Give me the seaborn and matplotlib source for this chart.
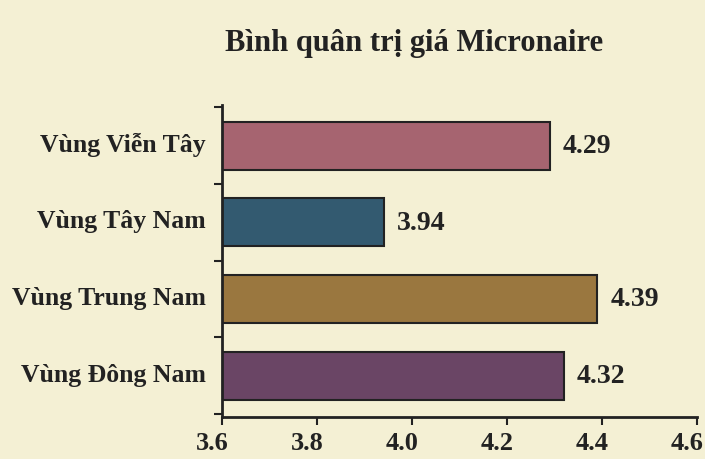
import numpy as np
import pandas as pd
import matplotlib
matplotlib.use('Agg')
import matplotlib.pyplot as plt
import matplotlib.transforms as mtrans
import seaborn as sns

# average micronaire value per region
regions = ['Vùng Viễn Tây', 'Vùng Tây Nam', 'Vùng Trung Nam', 'Vùng Đông Nam']
values = [4.29, 3.94, 4.39, 4.32]
colors = ['#a66470', '#335a70', '#9a773f', '#6a4565']
xticks = [3.6, 3.8, 4.0, 4.2, 4.4, 4.6]

df = pd.DataFrame({'Region': regions, 'Value': values})

sns.set_style('white')
plt.rcParams['font.family'] = ['Liberation Serif', 'DejaVu Serif']
plt.rcParams['font.weight'] = 'bold'

bg = '#f4f0d4'
ink = '#222222'

fig = plt.figure(figsize=(7.05, 4.6), dpi=100, facecolor=bg)
ax = fig.add_axes([0.315, 0.0913, 0.674, 0.678])
ax.set_facecolor(bg)

sns.barplot(data=df, y='Region', x='Value', hue='Region', palette=colors,
            orient='h', width=0.625, edgecolor=ink, linewidth=1.5,
            saturation=1, legend=False, ax=ax)

ax.set_xlim(3.6, 4.6)
ax.set_ylim(3.54, -0.53)
ax.set_xticks(xticks)
ax.set_xticklabels([f'{t:.1f}' for t in xticks], fontsize=19, fontweight='bold', color=ink)
ax.set_yticks(range(len(regions)))
ax.set_yticklabels(regions, fontsize=18.5, fontweight='bold', color=ink)
ax.tick_params(axis='y', which='major', left=False, length=0, pad=12)
ax.set_yticks(np.arange(-0.5, len(regions), 1.0), minor=True)
ax.tick_params(axis='y', which='minor', left=True, length=6, width=1.5, color=ink, direction='out')
ax.tick_params(axis='x', which='major', bottom=True, length=6, width=1.5, color=ink, direction='out', pad=4)

# tick labels sit a little left of their ticks in the original
shift = mtrans.ScaledTranslation(-10 / 100, 0, fig.dpi_scale_trans)
for lbl in ax.get_xticklabels():
    lbl.set_transform(lbl.get_transform() + shift)

# category labels sit slightly above the bar centres
yshift = mtrans.ScaledTranslation(0, 4 / 100, fig.dpi_scale_trans)
for lbl in ax.get_yticklabels():
    lbl.set_transform(lbl.get_transform() + yshift)

for s in ['top', 'right']:
    ax.spines[s].set_visible(False)
for s in ['left', 'bottom']:
    ax.spines[s].set_color(ink)
    ax.spines[s].set_linewidth(2)

ax.set_xlabel('')
ax.set_ylabel('')

for i, v in enumerate(values):
    ax.text(v + 0.027, i, f'{v:.2f}', va='center', ha='left',
            fontsize=20, fontweight='bold', color=ink)

fig.text(0.587, 0.905, 'Bình quân trị giá Micronaire', ha='center', va='center',
         fontsize=22, fontweight='bold', color=ink)

fig.savefig('out.png', dpi=100, facecolor=bg)
